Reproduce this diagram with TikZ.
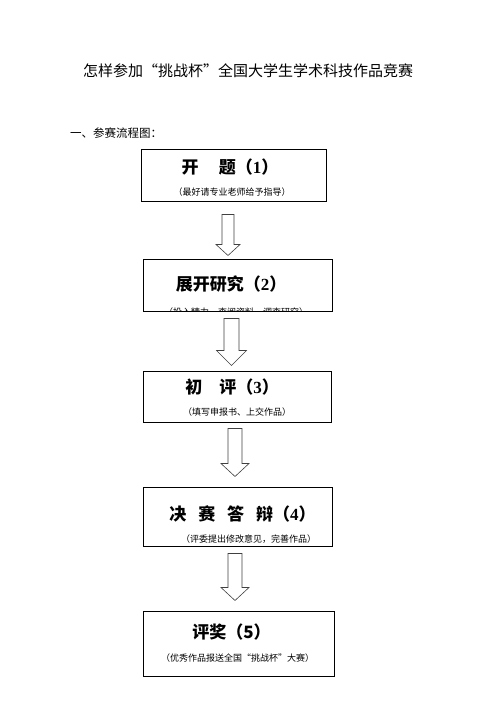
\documentclass[tikz,border=0pt]{standalone}
\usepackage{fontspec}
\setmainfont{Noto Sans CJK SC}
\newfontfamily\numf{Liberation Serif}
\usetikzlibrary{calc}

\begin{document}
\begin{tikzpicture}[x=1pt,y=1pt]
	\tikzset{box/.style={draw,line width=1pt,inner sep=0pt},
		hollow/.style={draw=black!75,line width=0.6pt,fill=white},
		head/.style={font=\fontsize{17}{17}\selectfont\bfseries,inner sep=0pt},
		note/.style={font=\fontsize{9}{9}\selectfont,inner sep=0pt}}
	\useasboundingbox (0,0) rectangle (496,-702);
	% heading
	\node[font=\fontsize{15}{15}\selectfont,inner sep=0pt] (title) at (248,-71) {怎样参加“挑战杯”全国大学生学术科技作品竞赛};
	\node[font=\fontsize{11.5}{11.5}\selectfont,inner sep=0pt,anchor=west] (sec) at (70,-133) {一、参赛流程图：};
	% boxes
	\node[box,minimum width=185,minimum height=52] (b1) at (233.5,-175) {};
	\node[box,minimum width=189,minimum height=52] (b2) at (237.5,-285) {};
	\node[box,minimum width=188,minimum height=51] (b3) at (237.5,-396.5) {};
	\node[box,minimum width=189,minimum height=59] (b4) at (237.5,-516.5) {};
	\node[box,minimum width=191,minimum height=65] (b5) at (238.5,-643.5) {};
	% texts
	\node[head] (t1) at (230,-167) {开\hspace{1.2em}题（{\numf 1}）};
	\node[note] (n1) at (232,-192) {（最好请专业老师给予指导）};
	\node[head] (t2) at (231,-284) {展开研究（{\numf 2}）};
	\begin{scope}
		\clip (b2.south west) rectangle (b2.north east);
		\node[note] (n2) at (236,-312) {（投入精力、查阅资料、调查研究）};
	\end{scope}
	\node[head] (t3) at (232,-387) {初\hspace{1em}评（{\numf 3}）};
	\node[note] (n3) at (237,-412) {（填写申报书、上交作品）};
	\node[head] (t4) at (242.5,-514) {决\hspace{0.7em}赛\hspace{0.7em}答\hspace{0.7em}辩（{\numf 4}）};
	\node[note] (n4) at (248.5,-539) {（评委提出修改意见，完善作品）};
	\node[head] (t5) at (231.5,-632) {评奖（5）};
	\node[note] (n5) at (237.5,-658) {（优秀作品报送全国“挑战杯”大赛）};
	% hollow arrows
	\foreach \a/\b/\cx/\w/\hw/\hl/\ga/\gb in {b1/b2/228/6/12/11/13/3,b2/b3/231.5/7.5/15/15/7/5,b3/b4/235/7/14/13/6/10,b4/b5/235/7/14/13/7/10}
		\draw[hollow] let \p1=(\a.south), \p2=(\b.north) in
			(\cx pt-\w pt,\y1-\ga pt)--(\cx pt+\w pt,\y1-\ga pt)--(\cx pt+\w pt,\y2+\gb pt+\hl pt)--(\cx pt+\hw pt,\y2+\gb pt+\hl pt)
			--(\cx pt,\y2+\gb pt)--(\cx pt-\hw pt,\y2+\gb pt+\hl pt)--(\cx pt-\w pt,\y2+\gb pt+\hl pt)--cycle;
\end{tikzpicture}
\end{document}
